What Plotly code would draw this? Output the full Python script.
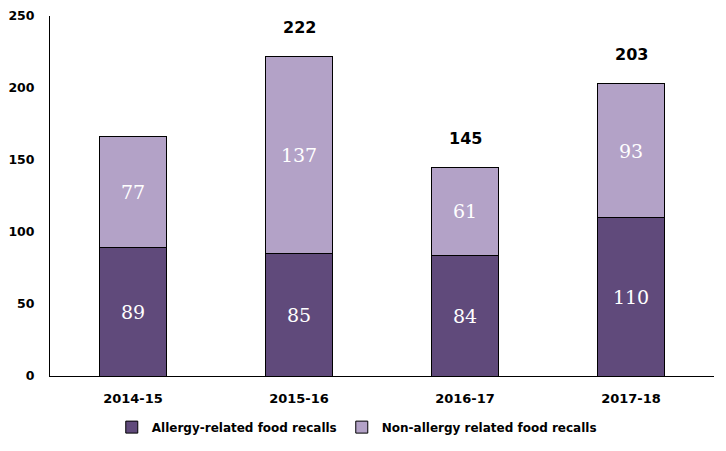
import plotly.graph_objects as go

years = ["2014-15", "2015-16", "2016-17", "2017-18"]
allergy = [89, 85, 84, 110]
non_allergy = [77, 137, 61, 93]
total_labels = ["", "222", "145", "203"]
y_ticks = [0, 50, 100, 150, 200, 250]

dark = "#604A7B"
light = "#B3A2C7"
sans = "DejaVu Sans"
serif = "DejaVu Serif"

fig = go.Figure()
fig.add_trace(go.Bar(
    x=years, y=allergy, name="Allergy-related food recalls",
    marker=dict(color=dark, line=dict(color="black", width=1)),
    text=[str(v) for v in allergy], textposition="inside", insidetextanchor="middle",
    textfont=dict(family=serif, size=19, color="white"), width=0.4,
))
fig.add_trace(go.Bar(
    x=years, y=non_allergy, name="Non-allergy related food recalls",
    marker=dict(color=light, line=dict(color="black", width=1)),
    text=[str(v) for v in non_allergy], textposition="inside", insidetextanchor="middle",
    textfont=dict(family=serif, size=19, color="white"), width=0.4,
))

for yr, a, n, lab in zip(years, allergy, non_allergy, total_labels):
    if lab:
        fig.add_annotation(x=yr, y=a + n, text=lab, showarrow=False,
                           yanchor="middle", yshift=29,
                           font=dict(family=sans, size=16, color="black", weight="bold"))

fig.update_layout(
    width=726, height=451,
    barmode="stack",
    plot_bgcolor="white", paper_bgcolor="white",
    margin=dict(l=42, r=20, t=8, b=83, autoexpand=False),
    showlegend=True,
    legend=dict(orientation="h", x=0.462, xanchor="center", y=-0.142, yanchor="middle",
                font=dict(family=sans, size=12, color="black", weight="bold"),
                traceorder="normal"),
    uniformtext=dict(mode=False),
)
fig.update_xaxes(showline=True, linecolor="black", linewidth=1, ticks="", automargin=False,
                 tickfont=dict(family=sans, size=13, color="black", weight="bold"),
                 ticklabelstandoff=10, showgrid=False)
fig.update_yaxes(range=[0, 250], tickvals=y_ticks, showline=True, linecolor="black", linewidth=1,
                 ticks="", showgrid=False, zeroline=False, automargin=False,
                 tickfont=dict(family=sans, size=12.5, color="black", weight="bold"),
                 ticklabelstandoff=12)

fig.write_html("out.html")
